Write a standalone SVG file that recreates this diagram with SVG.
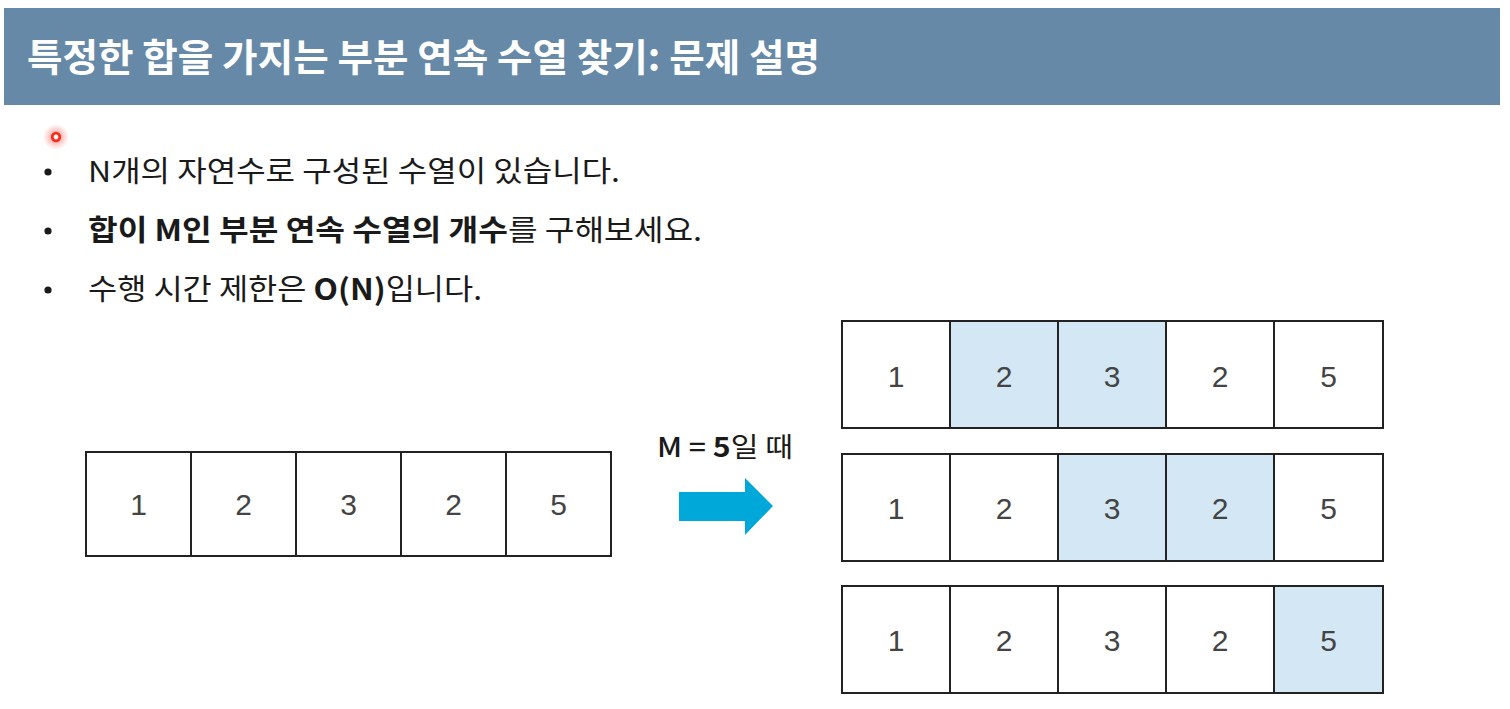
<svg xmlns="http://www.w3.org/2000/svg" width="1510" height="709" viewBox="0 0 1510 709">
<defs>
<style>
.title{font-family:"Noto Sans CJK KR","Noto Sans",sans-serif;font-weight:700;font-size:38px;fill:#ffffff}
.body{font-family:"Noto Sans CJK KR","Noto Sans",sans-serif;font-size:29px;fill:#1a1a1a}
.b{font-weight:700}
.cell{fill:#ffffff;stroke:#222222;stroke-width:2}
.hl{fill:#d3e8f4}
.num{font-family:"Liberation Sans","Noto Sans",sans-serif;font-size:30px;fill:#444444;text-anchor:middle}
.lbl{font-family:"Noto Sans CJK KR","Noto Sans",sans-serif;font-size:27px;fill:#1a1a1a}
</style>
<radialGradient id="glow">
<stop offset="0" stop-color="#ff3b30" stop-opacity="0.55"/>
<stop offset="1" stop-color="#ff3b30" stop-opacity="0"/>
</radialGradient>
</defs>
<rect width="1510" height="709" fill="#ffffff"/>
<g id="header">
<rect x="4" y="8" width="1496" height="97" fill="#6689a8"/>
<text class="title" x="27" y="71" textLength="793" lengthAdjust="spacingAndGlyphs">특정한 합을 가지는 부분 연속 수열 찾기: 문제 설명</text>
</g>
<g id="pointer">
<circle cx="56" cy="137" r="13" fill="url(#glow)"/>
<circle cx="56" cy="137" r="3.8" fill="#ffffff" stroke="#ff2a1a" stroke-width="2.8"/>
</g>
<g id="bullets">
<circle cx="48" cy="172" r="3.6" fill="#1a1a1a"/>
<circle cx="48" cy="231" r="3.6" fill="#1a1a1a"/>
<circle cx="48" cy="290" r="3.6" fill="#1a1a1a"/>
<text class="body" x="88" y="182" textLength="532" lengthAdjust="spacingAndGlyphs">N개의 자연수로 구성된 수열이 있습니다.</text>
<text class="body" x="88" y="241" textLength="614" lengthAdjust="spacingAndGlyphs"><tspan class="b">합이 M인 부분 연속 수열의 개수</tspan>를 구해보세요.</text>
<text class="body" x="88" y="300" textLength="394" lengthAdjust="spacingAndGlyphs">수행 시간 제한은 <tspan class="b">O(N)</tspan>입니다.</text>
</g>
<g id="input-array">
<rect class="cell" x="86" y="452" width="105" height="104"/>
<rect class="cell" x="191" y="452" width="105" height="104"/>
<rect class="cell" x="296" y="452" width="105" height="104"/>
<rect class="cell" x="401" y="452" width="105" height="104"/>
<rect class="cell" x="506" y="452" width="105" height="104"/>
<text class="num" x="138.5" y="515">1</text>
<text class="num" x="243.5" y="515">2</text>
<text class="num" x="348.5" y="515">3</text>
<text class="num" x="453.5" y="515">2</text>
<text class="num" x="558.5" y="515">5</text>
</g>
<g id="connectors">
<text class="lbl" x="657" y="457" textLength="136" lengthAdjust="spacingAndGlyphs"><tspan font-weight="500">M = </tspan><tspan class="b">5</tspan>일 때</text>
<polygon points="679,492 745,492 745,478 773,506 745,535 745,521 679,521" fill="#00a8da"/>
</g>
<g id="result-1">
<rect class="cell" x="842" y="321" width="108" height="107"/>
<rect class="cell hl" x="950" y="321" width="108" height="107"/>
<rect class="cell hl" x="1058" y="321" width="108" height="107"/>
<rect class="cell" x="1166" y="321" width="108" height="107"/>
<rect class="cell" x="1274" y="321" width="109" height="107"/>
<text class="num" x="896" y="387">1</text>
<text class="num" x="1004" y="387">2</text>
<text class="num" x="1112" y="387">3</text>
<text class="num" x="1220" y="387">2</text>
<text class="num" x="1328.5" y="387">5</text>
</g>
<g id="result-2">
<rect class="cell" x="842" y="454" width="108" height="107"/>
<rect class="cell" x="950" y="454" width="108" height="107"/>
<rect class="cell hl" x="1058" y="454" width="108" height="107"/>
<rect class="cell hl" x="1166" y="454" width="108" height="107"/>
<rect class="cell" x="1274" y="454" width="109" height="107"/>
<text class="num" x="896" y="519">1</text>
<text class="num" x="1004" y="519">2</text>
<text class="num" x="1112" y="519">3</text>
<text class="num" x="1220" y="519">2</text>
<text class="num" x="1328.5" y="519">5</text>
</g>
<g id="result-3">
<rect class="cell" x="842" y="586" width="108" height="107"/>
<rect class="cell" x="950" y="586" width="108" height="107"/>
<rect class="cell" x="1058" y="586" width="108" height="107"/>
<rect class="cell" x="1166" y="586" width="108" height="107"/>
<rect class="cell hl" x="1274" y="586" width="109" height="107"/>
<text class="num" x="896" y="651">1</text>
<text class="num" x="1004" y="651">2</text>
<text class="num" x="1112" y="651">3</text>
<text class="num" x="1220" y="651">2</text>
<text class="num" x="1328.5" y="651">5</text>
</g>
</svg>
